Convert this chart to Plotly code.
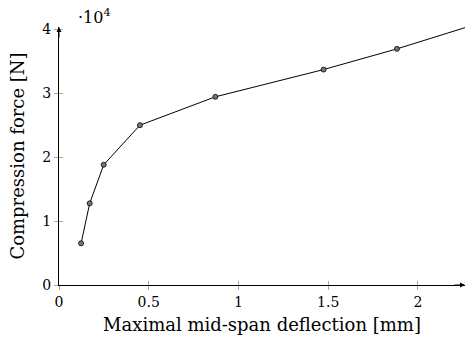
import plotly.graph_objects as go

deflection = [0.123, 0.171, 0.249, 0.451, 0.871, 1.474, 1.883, 2.45]
force = [6520, 12770, 18810, 25000, 29440, 33700, 36940, 41900]
x_ticks = [0, 0.5, 1, 1.5, 2]
x_ticklabels = ["0", "0.5", "1", "1.5", "2"]
y_ticks = [0, 1, 2, 3, 4]
y_ticklabels = ["0", "1", "2", "3", "4"]

FONT = "DejaVu Serif"
y_scaled = [v / 1e4 for v in force]

fig = go.Figure()
fig.add_trace(go.Scatter(
    x=deflection, y=y_scaled, mode="lines+markers",
    line=dict(color="black", width=1.0),
    marker=dict(size=5, color="#777777", line=dict(color="black", width=0.8)),
    showlegend=False,
))

fig.update_layout(
    width=466, height=344,
    margin=dict(l=59, r=1, t=27, b=59),
    paper_bgcolor="white", plot_bgcolor="white",
    font=dict(family=FONT, size=15, color="black"),
    xaxis=dict(range=[0, 2.262], showgrid=False, zeroline=False,
               showline=True, linecolor="black", linewidth=1,
               tickvals=x_ticks, ticktext=x_ticklabels,
               ticks="outside", ticklen=4, tickcolor="#aaaaaa", tickwidth=1,
               tickfont=dict(size=14),
               title=dict(text="Maximal mid-span deflection [mm]", standoff=9)),
    yaxis=dict(range=[0, 4.036], showgrid=False, zeroline=False,
               showline=True, linecolor="black", linewidth=1,
               tickvals=y_ticks, ticktext=y_ticklabels,
               ticks="outside", ticklen=4, tickcolor="#aaaaaa", tickwidth=1,
               tickfont=dict(size=14),
               title=dict(text="Compression force [N]", standoff=12)),
    xaxis2=dict(overlaying="x", matches="x", anchor="y", side="bottom",
                range=[0, 2.262], showgrid=False, zeroline=False, showline=False,
                tickvals=x_ticks, showticklabels=False,
                ticks="inside", ticklen=4, tickcolor="#aaaaaa", tickwidth=1),
    yaxis2=dict(overlaying="y", matches="y", anchor="x", side="left",
                range=[0, 4.036], showgrid=False, zeroline=False, showline=False,
                tickvals=y_ticks, showticklabels=False,
                ticks="inside", ticklen=4, tickcolor="#aaaaaa", tickwidth=1),
)
fig.add_trace(go.Scatter(x=[None], y=[None], xaxis="x2", yaxis="y2",
                         showlegend=False, hoverinfo="skip"))

fig.add_annotation(xref="x domain", yref="y", x=1, y=0, ax=-12, ay=0,
                   axref="pixel", ayref="pixel", text="", showarrow=True,
                   arrowhead=2, arrowsize=1, arrowwidth=1, arrowcolor="black")
fig.add_annotation(xref="x", yref="y domain", x=0, y=1, ax=0, ay=12,
                   axref="pixel", ayref="pixel", text="", showarrow=True,
                   arrowhead=2, arrowsize=1, arrowwidth=1, arrowcolor="black")
fig.add_annotation(xref="paper", yref="paper", x=0.043, y=1.0, xanchor="left",
                   yanchor="bottom", yshift=-2, text="·10<sup>4</sup>",
                   showarrow=False, font=dict(size=16))

fig.write_html("out.html")
